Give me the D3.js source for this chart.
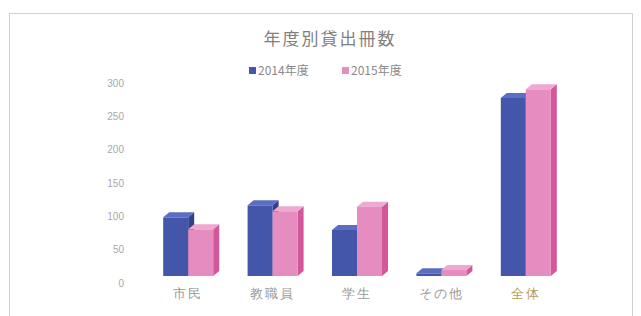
<!DOCTYPE html>
<html><head><meta charset="utf-8">
<script src="https://cdn.jsdelivr.net/npm/d3@7"></script>
<style>body{margin:0;background:#fff}svg{display:block}</style>
</head><body>
<script>
const categories = ["市民", "教職員", "学生", "その他", "全体"];
const seriesNames = ["2014年度", "2015年度"];
const values2014 = [88, 106, 69, 4, 267];
const values2015 = [70, 97, 104, 9, 280];
const yTicks = [0, 50, 100, 150, 200, 250, 300];
const title = "年度別貸出冊数";

const W = 641, H = 316;
const svg = d3.select("body").append("svg").attr("width", W).attr("height", H)
  .style("font-family", "'Noto Sans CJK JP', sans-serif");

svg.append("rect").attr("x", 9.5).attr("y", 13.5).attr("width", 623).attr("height", 330)
  .attr("fill", "#fff").attr("stroke", "#cfcfcf");

const x = d3.scaleBand().domain(categories).range([146, 568]);
const xs = d3.scaleBand().domain(seriesNames).range([0, 50]);
const y = d3.scaleLinear().domain([0, 300]).range([276, 76]);

const pal = {
  "2014年度": {front: "#4356aa", top: "#5b6dc4", side: "#32418a"},
  "2015年度": {front: "#e58cc1", top: "#efa9d1", side: "#d3579a"}
};

svg.append("text").attr("x", 330).attr("y", 45).attr("text-anchor", "middle")
  .attr("font-size", 17).attr("letter-spacing", 2).attr("fill", "#808080").text(title);

// legend
const leg = svg.append("g");
const legX = [249, 342];
seriesNames.forEach((s, i) => {
  leg.append("rect").attr("x", legX[i]).attr("y", 67).attr("width", 7).attr("height", 7)
    .attr("fill", pal[s].front);
  leg.append("text").attr("x", legX[i] + 9).attr("y", 75).attr("font-size", 12)
    .attr("fill", "#8a8a8a").text(s);
});

// y axis labels (on back wall, offset for 3D)
const yAxis = d3.axisLeft(y).tickValues(yTicks).tickSize(0).tickPadding(0);
const ya = svg.append("g").attr("transform", "translate(124,7)").call(yAxis);
ya.select(".domain").remove();
ya.selectAll("text").attr("font-size", 10).attr("fill", "#a8a8a8");

// x labels
const xAxis = d3.axisBottom(x).tickSize(0).tickPadding(0);
const xa = svg.append("g").attr("transform", "translate(0,289)").call(xAxis);
xa.select(".domain").remove();
xa.selectAll("text").attr("font-size", 13).attr("letter-spacing", 2)
  .attr("fill", d => d === "全体" ? "#b59a5a" : "#999999");

const dx = 6, dy = 5;
const data = [];
categories.forEach((c, i) => {
  data.push({c, s: seriesNames[0], v: values2014[i]});
  data.push({c, s: seriesNames[1], v: values2015[i]});
});

const bars = svg.append("g").selectAll("g").data(data).join("g");
bars.each(function(d) {
  const g = d3.select(this);
  const x0 = x(d.c) + x.bandwidth() / 2 - 25 + xs(d.s);
  const x1 = x0 + xs.bandwidth();
  const yt = y(d.v), yb = y(0);
  const col = pal[d.s];
  g.append("path").attr("d", `M${x1},${yt}L${x1+dx},${yt-dy}L${x1+dx},${yb-dy}L${x1},${yb}Z`).attr("fill", col.side);
  g.append("path").attr("d", `M${x0},${yt}L${x0+dx},${yt-dy}L${x1+dx},${yt-dy}L${x1},${yt}Z`).attr("fill", col.top);
  g.append("rect").attr("x", x0).attr("y", yt).attr("width", x1 - x0).attr("height", yb - yt).attr("fill", col.front);
});
</script>
</body></html>
